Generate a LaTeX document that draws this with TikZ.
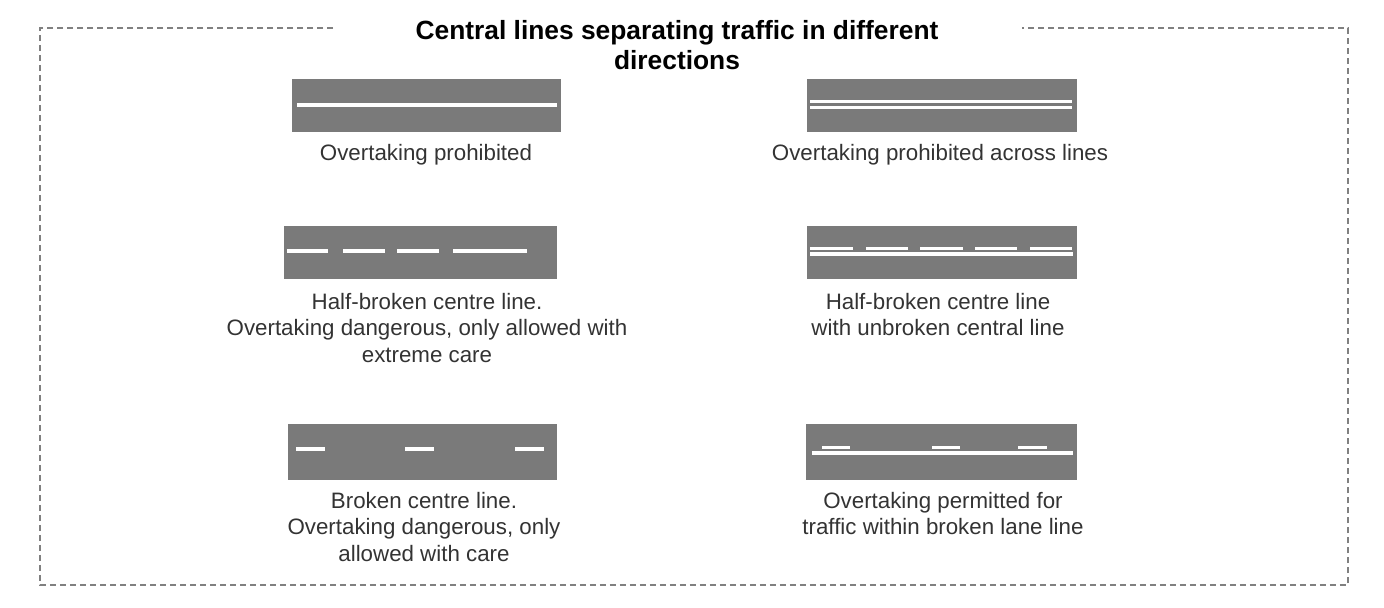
\documentclass[tikz,border=0pt]{standalone}
\usepackage{fontspec}
\setmainfont{Liberation Sans}
\definecolor{roadgray}{HTML}{7A7A7A}
\definecolor{framegray}{HTML}{808080}
\definecolor{textgray}{HTML}{333333}
\begin{document}
\begin{tikzpicture}[x=0.02cm,y=-0.02cm,
	road/.style={fill=roadgray},
	lanemark/.style={draw=white,line width=0.08cm},
	thinmark/.style={draw=white,line width=0.06cm},
	caption/.style={font=\fontsize{12.7}{15.3}\selectfont,align=center,text=textgray},
	border/.style={draw=framegray,line width=0.045cm,dash pattern=on 0.12cm off 0.08cm}]
	\useasboundingbox (0,0) rectangle (1384,608);

	\draw[border] (333,28) -- (40,28) -- (40,585) -- (1348,585) -- (1348,28) -- (1022,28);
	\node[font=\bfseries\fontsize{15}{17}\selectfont,align=center] (title) at (677,45)
		{Central lines separating traffic in different\\directions};

	\fill[road] (292,79) rectangle (561,132);
	\draw[lanemark] (297,105) -- (557,105);
	\node[caption] (prohibited) at (426,155) {Overtaking prohibited};

	\fill[road] (807,79) rectangle (1077,132);
	\draw[thinmark] (810,102) -- (1072,102);
	\draw[thinmark] (810,108) -- (1072,108);
	\node[caption] (across) at (940,155) {Overtaking prohibited across lines};

	\fill[road] (284,226) rectangle (557,279);
	\draw[lanemark] (287,251) -- (328,251);
	\draw[lanemark] (343,251) -- (385,251);
	\draw[lanemark] (397,251) -- (439,251);
	\draw[lanemark] (453,251) -- (527,251);
	\node[caption] (halfbroken) at (427,328)
		{Half-broken centre line.\\Overtaking dangerous, only allowed with\\extreme care};

	\fill[road] (807,226) rectangle (1077,279);
	\draw[thinmark] (810,248.5) -- (853,248.5);
	\draw[thinmark] (866,248.5) -- (908,248.5);
	\draw[thinmark] (920,248.5) -- (963,248.5);
	\draw[thinmark] (975,248.5) -- (1017,248.5);
	\draw[thinmark] (1030,248.5) -- (1072,248.5);
	\draw[lanemark] (810,254) -- (1073,254);
	\node[caption] (halfunbroken) at (938,314.5)
		{Half-broken centre line\\with unbroken central line};

	\fill[road] (288,424) rectangle (557,480);
	\draw[lanemark] (296,449) -- (325,449);
	\draw[lanemark] (405,449) -- (434,449);
	\draw[lanemark] (515,449) -- (544,449);
	\node[caption] (broken) at (424,527)
		{Broken centre line.\\Overtaking dangerous, only\\allowed with care};

	\fill[road] (806,424) rectangle (1077,480);
	\draw[thinmark] (822,447.5) -- (850,447.5);
	\draw[thinmark] (932,447.5) -- (960,447.5);
	\draw[thinmark] (1018,447.5) -- (1047,447.5);
	\draw[lanemark] (812,453) -- (1073,453);
	\node[caption] (permitted) at (943,513.5)
		{Overtaking permitted for\\traffic within broken lane line};
\end{tikzpicture}
\end{document}
